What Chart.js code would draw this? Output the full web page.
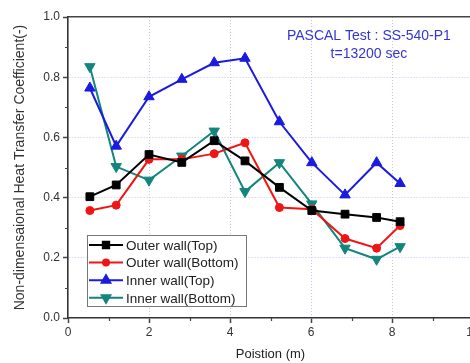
<!DOCTYPE html>
<html>
<head>
<meta charset="utf-8">
<script src="https://cdn.jsdelivr.net/npm/chart.js@4/dist/chart.umd.min.js"></script>
<style>
  html, body { margin: 0; padding: 0; background: #fff; overflow: hidden; }
  #wrap { width: 490px; height: 363px; }
</style>
</head>
<body>
<div id="wrap"><canvas id="c" width="490" height="363"></canvas></div>
<script>
// position along the wall (m)
const positions = [0.54, 1.19, 2.0, 2.81, 3.61, 4.37, 5.22, 6.02, 6.84, 7.62, 8.2];

// non-dimensional heat transfer coefficient
const outerTop    = [0.403, 0.442, 0.543, 0.517, 0.589, 0.522, 0.434, 0.357, 0.345, 0.334, 0.320];
const outerBottom = [0.357, 0.375, 0.527, 0.527, 0.546, 0.582, 0.367, 0.361, 0.264, 0.232, 0.307];
const innerTop    = [0.764, 0.571, 0.735, 0.793, 0.848, 0.863, 0.652, 0.516, 0.409, 0.516, 0.447];
const innerBottom = [0.835, 0.503, 0.458, 0.538, 0.621, 0.420, 0.516, 0.379, 0.232, 0.195, 0.237];

const seriesNames = ["Outer wall(Top)", "Outer wall(Bottom)", "Inner wall(Top)", "Inner wall(Bottom)"];
const noteLines = ["PASCAL Test : SS-540-P1", "t=13200 sec"];

const FONT = "'Liberation Sans', Arial, sans-serif";

const toPoints = (vals) => vals.map((v, i) => ({ x: positions[i], y: v }));

function makeSet(label, vals, color, style, rot, r) {
  return {
    label: label,
    data: toPoints(vals),
    borderColor: color,
    backgroundColor: color,
    borderWidth: 2,
    pointStyle: style,
    rotation: rot,
    pointRadius: r,
    pointBorderWidth: 1,
    tension: 0,
    fill: false,
  };
}

// small minor tick marks (Origin style)
const minorTicks = {
  id: "minorTicks",
  afterDraw(chart) {
    const { ctx, scales: { x, y } } = chart;
    ctx.save();
    ctx.strokeStyle = "#444";
    ctx.lineWidth = 1.2;
    ctx.beginPath();
    for (let v = 1; v < 10; v += 2) {
      const px = Math.round(x.getPixelForValue(v)) + 0.5;
      ctx.moveTo(px, y.bottom);
      ctx.lineTo(px, y.bottom + 3);
    }
    for (let v = 0.1; v < 1; v += 0.2) {
      const py = Math.round(y.getPixelForValue(v)) + 0.5;
      ctx.moveTo(x.left - 3, py);
      ctx.lineTo(x.left, py);
    }
    ctx.stroke();
    ctx.restore();
  },
};

// test label in the top right corner
const note = {
  id: "note",
  afterDraw(chart) {
    const { ctx, scales: { x, y } } = chart;
    ctx.save();
    ctx.fillStyle = "#3535d0";
    ctx.font = "14px " + FONT;
    ctx.textAlign = "center";
    ctx.textBaseline = "middle";
    ctx.fillText(noteLines[0], x.getPixelForValue(7.43), y.getPixelForValue(0.935));
    ctx.fillText(noteLines[1], x.getPixelForValue(7.43), y.getPixelForValue(0.876));
    ctx.restore();
  },
};

// boxed legend in the lower left of the plot
const boxLegend = {
  id: "boxLegend",
  afterDraw(chart) {
    const { ctx, chartArea } = chart;
    const bx = chartArea.left + 19, by = chartArea.top + 218;
    const bw = 159, bh = 71;
    ctx.save();
    ctx.fillStyle = "#fff";
    ctx.fillRect(bx, by, bw, bh);
    ctx.strokeStyle = "#777";
    ctx.lineWidth = 1;
    ctx.strokeRect(bx + 0.5, by + 0.5, bw, bh);
    chart.data.datasets.forEach((ds, i) => {
      const ry = by + 10 + i * 17.6;
      ctx.strokeStyle = ds.borderColor;
      ctx.lineWidth = 2;
      ctx.beginPath();
      ctx.moveTo(bx + 2, ry);
      ctx.lineTo(bx + 36, ry);
      ctx.stroke();
      ctx.fillStyle = ds.backgroundColor;
      Chart.helpers.drawPoint(ctx, {
        pointStyle: ds.pointStyle,
        rotation: ds.rotation,
        radius: ds.pointRadius - 1,
        borderWidth: 1,
      }, bx + 19, ry);
      ctx.fillStyle = "#222";
      ctx.font = "13.5px " + FONT;
      ctx.textAlign = "left";
      ctx.textBaseline = "middle";
      ctx.fillText(ds.label, bx + 39, ry + 1);
    });
    ctx.restore();
  },
};

const gridColor = (c) => {
  const v = c.tick ? c.tick.value : null;
  if (v === null || v <= 0 || v >= c.scale.max - 1e-9) return "rgba(0,0,0,0)";
  return "#c4c4f0";
};

new Chart(document.getElementById("c"), {
  type: "line",
  data: {
    datasets: [
      makeSet(seriesNames[0], outerTop, "#000000", "rect", 0, 5.5),
      makeSet(seriesNames[1], outerBottom, "#f01414", "circle", 0, 4),
      makeSet(seriesNames[2], innerTop, "#1a1ae0", "triangle", 0, 6),
      makeSet(seriesNames[3], innerBottom, "#14857c", "triangle", 180, 6),
    ],
  },
  options: {
    responsive: false,
    devicePixelRatio: 1,
    animation: false,
    layout: { padding: { left: 0, top: 17, right: 17, bottom: 0 } },
    plugins: {
      legend: { display: false },
      tooltip: { enabled: false },
    },
    scales: {
      x: {
        type: "linear",
        min: 0,
        max: 10,
        afterFit: (s) => { s.height = 45; },
        ticks: {
          stepSize: 2,
          color: "#333",
          padding: 2,
          maxRotation: 0,
          font: { family: FONT, size: 12 },
        },
        grid: {
          color: gridColor,
          tickColor: "#444",
          tickWidth: 1.5,
          tickLength: 5,
        },
        border: { color: "#333", width: 1.6, dash: [1, 2] },
        title: {
          display: true,
          text: "Poistion (m)",
          color: "#222",
          font: { family: FONT, size: 13 },
          padding: { top: 0, bottom: 1 },
        },
      },
      xTop: {
        type: "linear",
        position: "top",
        min: 0,
        max: 10,
        afterFit: (s) => { s.height = 0; },
        ticks: { display: false },
        grid: { display: false, drawTicks: false },
        border: { color: "#444", width: 1.5 },
      },
      y: {
        min: 0,
        max: 1,
        afterFit: (s) => { s.width = 68; },
        ticks: {
          stepSize: 0.2,
          color: "#333",
          padding: 3,
          font: { family: FONT, size: 12 },
          callback: (v) => v.toFixed(1),
        },
        grid: {
          color: gridColor,
          tickColor: "#444",
          tickWidth: 1.5,
          tickLength: 5,
        },
        border: { color: "#333", width: 1.6, dash: [1, 2] },
        title: {
          display: true,
          text: "Non-dimensaional Heat Transfer Coefficient(-)",
          color: "#333",
          font: { family: FONT, size: 14 },
          padding: { top: 12, bottom: 0 },
        },
      },
    },
  },
  plugins: [minorTicks, note, boxLegend],
});
</script>
</body>
</html>
